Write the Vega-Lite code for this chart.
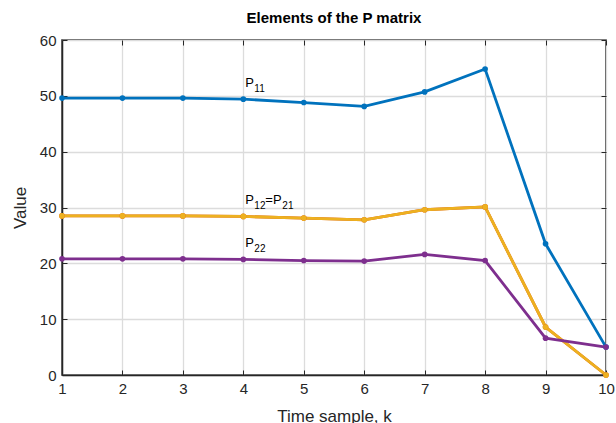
{
  "$schema": "https://vega.github.io/schema/vega-lite/v6.json",
  "autosize": "none",
  "width": 544,
  "height": 335,
  "padding": {"left": 62, "top": 40, "right": 10, "bottom": 48},
  "background": "white",
  "config": {
    "font": "Liberation Sans",
    "view": {"stroke": "#262626", "strokeWidth": 1.5},
    "axis": {
      "domainColor": "#262626",
      "domainWidth": 1.5,
      "tickColor": "#262626",
      "tickSize": -5,
      "labelColor": "#262626",
      "labelFontSize": 15,
      "labelFont": "Liberation Sans",
      "titleFont": "Liberation Sans",
      "titleColor": "#262626",
      "titleFontSize": 17,
      "titleFontWeight": "normal",
      "gridColor": "#dcdcdc",
      "gridWidth": 1.3
    }
  },
  "title": {
    "text": "Elements of the P matrix",
    "fontSize": 15,
    "fontWeight": "bold",
    "font": "Liberation Sans",
    "color": "#000000",
    "offset": 7,
    "anchor": "middle"
  },
  "datasets": {
    "series": [
      {"k": 1, "s": "P11", "v": 49.6}, {"k": 2, "s": "P11", "v": 49.6}, {"k": 3, "s": "P11", "v": 49.6},
      {"k": 4, "s": "P11", "v": 49.4}, {"k": 5, "s": "P11", "v": 48.8}, {"k": 6, "s": "P11", "v": 48.1},
      {"k": 7, "s": "P11", "v": 50.7}, {"k": 8, "s": "P11", "v": 54.8}, {"k": 9, "s": "P11", "v": 23.5},
      {"k": 10, "s": "P11", "v": 5.0},
      {"k": 1, "s": "P12", "v": 28.5}, {"k": 2, "s": "P12", "v": 28.5}, {"k": 3, "s": "P12", "v": 28.5},
      {"k": 4, "s": "P12", "v": 28.4}, {"k": 5, "s": "P12", "v": 28.1}, {"k": 6, "s": "P12", "v": 27.8},
      {"k": 7, "s": "P12", "v": 29.6}, {"k": 8, "s": "P12", "v": 30.1}, {"k": 9, "s": "P12", "v": 8.6},
      {"k": 10, "s": "P12", "v": 0.0},
      {"k": 1, "s": "P21", "v": 28.5}, {"k": 2, "s": "P21", "v": 28.5}, {"k": 3, "s": "P21", "v": 28.5},
      {"k": 4, "s": "P21", "v": 28.4}, {"k": 5, "s": "P21", "v": 28.1}, {"k": 6, "s": "P21", "v": 27.8},
      {"k": 7, "s": "P21", "v": 29.6}, {"k": 8, "s": "P21", "v": 30.1}, {"k": 9, "s": "P21", "v": 8.6},
      {"k": 10, "s": "P21", "v": 0.0},
      {"k": 1, "s": "P22", "v": 20.8}, {"k": 2, "s": "P22", "v": 20.8}, {"k": 3, "s": "P22", "v": 20.8},
      {"k": 4, "s": "P22", "v": 20.7}, {"k": 5, "s": "P22", "v": 20.5}, {"k": 6, "s": "P22", "v": 20.4},
      {"k": 7, "s": "P22", "v": 21.6}, {"k": 8, "s": "P22", "v": 20.5}, {"k": 9, "s": "P22", "v": 6.6},
      {"k": 10, "s": "P22", "v": 5.0}
    ],
    "labelP": [
      {"k": 4, "v": 51.6, "t": "P"},
      {"k": 4, "v": 30.6, "t": "P"},
      {"k": 4, "v": 23.0, "t": "P"}
    ],
    "labelSub": [
      {"k": 4, "v": 51.6, "t": "11"},
      {"k": 4, "v": 30.6, "t": "12"},
      {"k": 4, "v": 23.0, "t": "22"}
    ],
    "labelEq": [
      {"k": 4, "v": 30.6, "t": "=P"}
    ],
    "labelSub2": [
      {"k": 4, "v": 30.6, "t": "21"}
    ]
  },
  "layer": [
    {
      "data": {"name": "series"},
      "mark": {"type": "line", "strokeWidth": 2.8, "point": {"filled": true, "size": 32}},
      "encoding": {
        "x": {
          "field": "k", "type": "quantitative",
          "scale": {"domain": [1, 10], "nice": false, "zero": false},
          "axis": {"values": [1,2,3,4,5,6,7,8,9,10], "title": "Time sample, k", "labelPadding": 11, "titlePadding": 12, "grid": true, "orient": "bottom", "labelFlush": false}
        },
        "y": {
          "field": "v", "type": "quantitative",
          "scale": {"domain": [0, 60], "nice": false},
          "axis": {"values": [0,10,20,30,40,50,60], "title": "Value", "labelPadding": 11, "titlePadding": 10, "grid": true, "orient": "left"}
        },
        "color": {
          "field": "s", "type": "nominal",
          "scale": {"domain": ["P11","P12","P21","P22"], "range": ["#0072BD","#D95319","#EDB120","#7E2F8E"]},
          "legend": null
        }
      }
    },
    {
      "data": {"name": "labelP"},
      "mark": {"type": "text", "align": "left", "baseline": "alphabetic", "dx": 2, "fontSize": 13, "color": "#000000"},
      "encoding": {
        "x": {"field": "k", "type": "quantitative", "axis": {"orient": "top", "labels": false, "grid": false, "title": null, "values": [1,2,3,4,5,6,7,8,9,10], "domain": false}},
        "y": {"field": "v", "type": "quantitative", "axis": {"orient": "right", "labels": false, "grid": false, "title": null, "values": [0,10,20,30,40,50,60], "domain": false}},
        "text": {"field": "t"}
      }
    },
    {
      "data": {"name": "labelSub"},
      "mark": {"type": "text", "align": "left", "baseline": "alphabetic", "dx": 11, "dy": 5, "fontSize": 10, "color": "#000000"},
      "encoding": {
        "x": {"field": "k", "type": "quantitative", "axis": null},
        "y": {"field": "v", "type": "quantitative", "axis": null},
        "text": {"field": "t"}
      }
    },
    {
      "data": {"name": "labelEq"},
      "mark": {"type": "text", "align": "left", "baseline": "alphabetic", "dx": 22, "fontSize": 13, "color": "#000000"},
      "encoding": {
        "x": {"field": "k", "type": "quantitative", "axis": null},
        "y": {"field": "v", "type": "quantitative", "axis": null},
        "text": {"field": "t"}
      }
    },
    {
      "data": {"name": "labelSub2"},
      "mark": {"type": "text", "align": "left", "baseline": "alphabetic", "dx": 39, "dy": 5, "fontSize": 10, "color": "#000000"},
      "encoding": {
        "x": {"field": "k", "type": "quantitative", "axis": null},
        "y": {"field": "v", "type": "quantitative", "axis": null},
        "text": {"field": "t"}
      }
    }
  ],
  "resolve": {"axis": {"x": "independent", "y": "independent"}}
}
